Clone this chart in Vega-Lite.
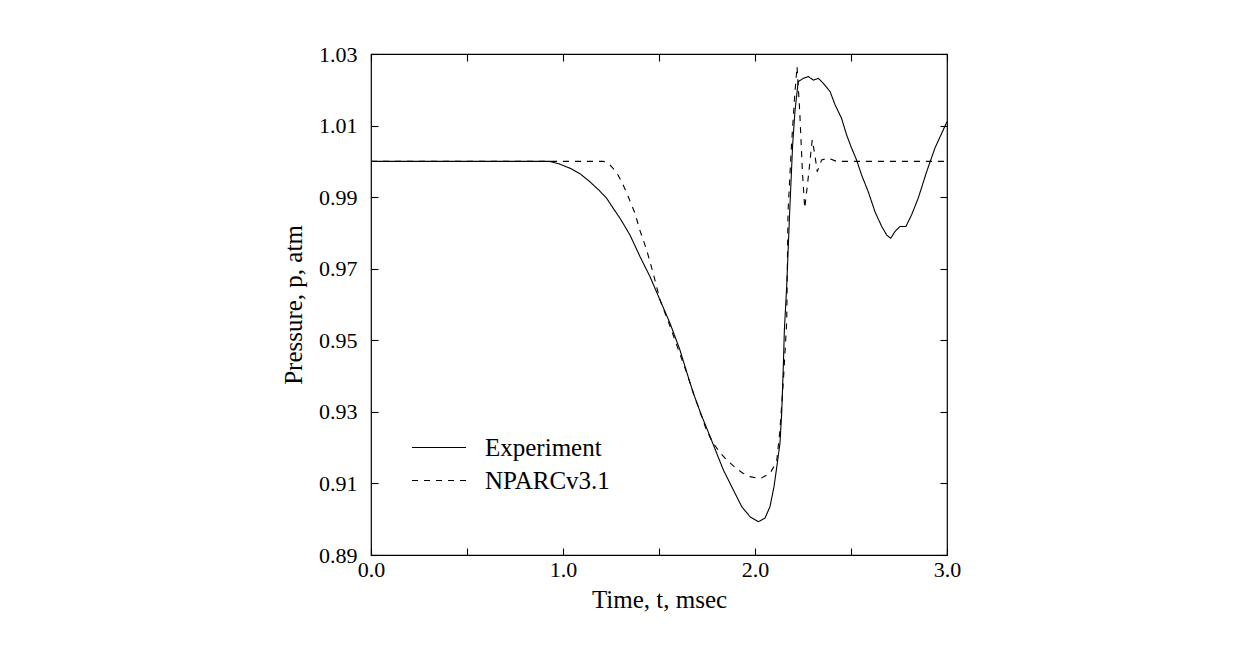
{
  "$schema": "https://vega.github.io/schema/vega-lite/v6.json",
  "autosize": {"type": "none"},
  "padding": {"left": 371, "top": 54, "right": 304, "bottom": 106},
  "width": 576,
  "height": 501,
  "background": "white",
  "config": {
    "font": "Liberation Serif",
    "view": {"stroke": "black", "strokeWidth": 1.2},
    "axis": {
      "labelFont": "Liberation Serif",
      "titleFont": "Liberation Serif",
      "labelColor": "black",
      "titleColor": "black",
      "labelFontSize": 22,
      "titleFontSize": 25,
      "titleFontWeight": "normal",
      "tickColor": "black",
      "domainColor": "black",
      "grid": false,
      "tickSize": -7,
      "tickWidth": 1.1,
      "domain": false
    },
    "legend": {
      "labelFont": "Liberation Serif",
      "labelFontSize": 25,
      "labelColor": "black"
    }
  },
  "data": {
    "values": [
      {"t": 0, "p": 1.0, "series": "Experiment"},
      {"t": 0.5, "p": 1.0, "series": "Experiment"},
      {"t": 0.9, "p": 1.0, "series": "Experiment"},
      {"t": 0.932, "p": 1.0, "series": "Experiment"},
      {"t": 0.98, "p": 0.9993, "series": "Experiment"},
      {"t": 1.036, "p": 0.9981, "series": "Experiment"},
      {"t": 1.09, "p": 0.9965, "series": "Experiment"},
      {"t": 1.14, "p": 0.9943, "series": "Experiment"},
      {"t": 1.19, "p": 0.9918, "series": "Experiment"},
      {"t": 1.227, "p": 0.9897, "series": "Experiment"},
      {"t": 1.26, "p": 0.987, "series": "Experiment"},
      {"t": 1.297, "p": 0.9841, "series": "Experiment"},
      {"t": 1.349, "p": 0.9794, "series": "Experiment"},
      {"t": 1.401, "p": 0.9734, "series": "Experiment"},
      {"t": 1.453, "p": 0.9678, "series": "Experiment"},
      {"t": 1.505, "p": 0.9613, "series": "Experiment"},
      {"t": 1.557, "p": 0.9548, "series": "Experiment"},
      {"t": 1.609, "p": 0.9473, "series": "Experiment"},
      {"t": 1.652, "p": 0.9398, "series": "Experiment"},
      {"t": 1.679, "p": 0.9352, "series": "Experiment"},
      {"t": 1.72, "p": 0.9292, "series": "Experiment"},
      {"t": 1.766, "p": 0.9231, "series": "Experiment"},
      {"t": 1.8, "p": 0.9185, "series": "Experiment"},
      {"t": 1.835, "p": 0.9138, "series": "Experiment"},
      {"t": 1.887, "p": 0.9082, "series": "Experiment"},
      {"t": 1.931, "p": 0.9035, "series": "Experiment"},
      {"t": 1.974, "p": 0.9007, "series": "Experiment"},
      {"t": 2.017, "p": 0.8993, "series": "Experiment"},
      {"t": 2.052, "p": 0.9003, "series": "Experiment"},
      {"t": 2.078, "p": 0.9035, "series": "Experiment"},
      {"t": 2.099, "p": 0.9091, "series": "Experiment"},
      {"t": 2.116, "p": 0.9156, "series": "Experiment"},
      {"t": 2.13, "p": 0.9212, "series": "Experiment"},
      {"t": 2.139, "p": 0.9296, "series": "Experiment"},
      {"t": 2.148, "p": 0.9436, "series": "Experiment"},
      {"t": 2.153, "p": 0.9529, "series": "Experiment"},
      {"t": 2.165, "p": 0.965, "series": "Experiment"},
      {"t": 2.18, "p": 0.985, "series": "Experiment"},
      {"t": 2.196, "p": 1.0046, "series": "Experiment"},
      {"t": 2.208, "p": 1.0139, "series": "Experiment"},
      {"t": 2.225, "p": 1.0223, "series": "Experiment"},
      {"t": 2.252, "p": 1.0232, "series": "Experiment"},
      {"t": 2.278, "p": 1.0237, "series": "Experiment"},
      {"t": 2.304, "p": 1.0227, "series": "Experiment"},
      {"t": 2.33, "p": 1.0232, "series": "Experiment"},
      {"t": 2.356, "p": 1.0218, "series": "Experiment"},
      {"t": 2.391, "p": 1.0195, "series": "Experiment"},
      {"t": 2.417, "p": 1.0158, "series": "Experiment"},
      {"t": 2.451, "p": 1.012, "series": "Experiment"},
      {"t": 2.477, "p": 1.0074, "series": "Experiment"},
      {"t": 2.503, "p": 1.0037, "series": "Experiment"},
      {"t": 2.529, "p": 1.0004, "series": "Experiment"},
      {"t": 2.555, "p": 0.9962, "series": "Experiment"},
      {"t": 2.59, "p": 0.9915, "series": "Experiment"},
      {"t": 2.625, "p": 0.9859, "series": "Experiment"},
      {"t": 2.66, "p": 0.9818, "series": "Experiment"},
      {"t": 2.686, "p": 0.9794, "series": "Experiment"},
      {"t": 2.707, "p": 0.9785, "series": "Experiment"},
      {"t": 2.729, "p": 0.9804, "series": "Experiment"},
      {"t": 2.755, "p": 0.9818, "series": "Experiment"},
      {"t": 2.786, "p": 0.9818, "series": "Experiment"},
      {"t": 2.816, "p": 0.9851, "series": "Experiment"},
      {"t": 2.85, "p": 0.9897, "series": "Experiment"},
      {"t": 2.894, "p": 0.9971, "series": "Experiment"},
      {"t": 2.937, "p": 1.0037, "series": "Experiment"},
      {"t": 2.972, "p": 1.0078, "series": "Experiment"},
      {"t": 3.0, "p": 1.0111, "series": "Experiment"},
      {"t": 0, "p": 1.0, "series": "NPARCv3.1"},
      {"t": 1.0, "p": 1.0, "series": "NPARCv3.1"},
      {"t": 1.21, "p": 1.0, "series": "NPARCv3.1"},
      {"t": 1.235, "p": 0.9995, "series": "NPARCv3.1"},
      {"t": 1.262, "p": 0.998, "series": "NPARCv3.1"},
      {"t": 1.285, "p": 0.9963, "series": "NPARCv3.1"},
      {"t": 1.306, "p": 0.9943, "series": "NPARCv3.1"},
      {"t": 1.34, "p": 0.9901, "series": "NPARCv3.1"},
      {"t": 1.375, "p": 0.9855, "series": "NPARCv3.1"},
      {"t": 1.4, "p": 0.9808, "series": "NPARCv3.1"},
      {"t": 1.436, "p": 0.9752, "series": "NPARCv3.1"},
      {"t": 1.47, "p": 0.9687, "series": "NPARCv3.1"},
      {"t": 1.505, "p": 0.9613, "series": "NPARCv3.1"},
      {"t": 1.557, "p": 0.954, "series": "NPARCv3.1"},
      {"t": 1.61, "p": 0.946, "series": "NPARCv3.1"},
      {"t": 1.645, "p": 0.9408, "series": "NPARCv3.1"},
      {"t": 1.679, "p": 0.9352, "series": "NPARCv3.1"},
      {"t": 1.72, "p": 0.929, "series": "NPARCv3.1"},
      {"t": 1.75, "p": 0.9245, "series": "NPARCv3.1"},
      {"t": 1.783, "p": 0.9212, "series": "NPARCv3.1"},
      {"t": 1.82, "p": 0.9185, "series": "NPARCv3.1"},
      {"t": 1.852, "p": 0.9166, "series": "NPARCv3.1"},
      {"t": 1.9, "p": 0.9143, "series": "NPARCv3.1"},
      {"t": 1.939, "p": 0.9128, "series": "NPARCv3.1"},
      {"t": 1.974, "p": 0.9119, "series": "NPARCv3.1"},
      {"t": 2.026, "p": 0.9113, "series": "NPARCv3.1"},
      {"t": 2.078, "p": 0.9128, "series": "NPARCv3.1"},
      {"t": 2.113, "p": 0.9161, "series": "NPARCv3.1"},
      {"t": 2.13, "p": 0.925, "series": "NPARCv3.1"},
      {"t": 2.148, "p": 0.9389, "series": "NPARCv3.1"},
      {"t": 2.165, "p": 0.955, "series": "NPARCv3.1"},
      {"t": 2.172, "p": 0.9859, "series": "NPARCv3.1"},
      {"t": 2.19, "p": 1.0046, "series": "NPARCv3.1"},
      {"t": 2.207, "p": 1.0185, "series": "NPARCv3.1"},
      {"t": 2.219, "p": 1.0265, "series": "NPARCv3.1"},
      {"t": 2.233, "p": 1.0139, "series": "NPARCv3.1"},
      {"t": 2.247, "p": 0.9971, "series": "NPARCv3.1"},
      {"t": 2.259, "p": 0.9869, "series": "NPARCv3.1"},
      {"t": 2.277, "p": 0.9953, "series": "NPARCv3.1"},
      {"t": 2.298, "p": 1.006, "series": "NPARCv3.1"},
      {"t": 2.312, "p": 1.0018, "series": "NPARCv3.1"},
      {"t": 2.324, "p": 0.9971, "series": "NPARCv3.1"},
      {"t": 2.347, "p": 1.0004, "series": "NPARCv3.1"},
      {"t": 2.382, "p": 1.0009, "series": "NPARCv3.1"},
      {"t": 2.425, "p": 1.0, "series": "NPARCv3.1"},
      {"t": 3.0, "p": 1.0, "series": "NPARCv3.1"}
    ]
  },
  "layer": [
    {
      "mark": {"type": "line", "color": "black", "strokeWidth": 1.1},
      "encoding": {
        "x": {
          "field": "t", "type": "quantitative",
          "scale": {"domain": [0, 3], "nice": false, "zero": false},
          "axis": {
            "title": "Time, t, msec",
            "values": [0, 0.5, 1, 1.5, 2, 2.5, 3],
            "labelExpr": "datum.value % 1 === 0 ? format(datum.value, '.1f') : ''",
            "labelPadding": 11,
            "titlePadding": 7,
            "labelFlush": false
          }
        },
        "y": {
          "field": "p", "type": "quantitative",
          "scale": {"domain": [0.89, 1.03], "nice": false, "zero": false},
          "axis": {
            "title": "Pressure, p, atm",
            "values": [0.89, 0.91, 0.93, 0.95, 0.97, 0.99, 1.01, 1.03],
            "format": ".2f",
            "labelPadding": 21,
            "titlePadding": 12,
            "labelFlush": false
          }
        },
        "strokeDash": {
          "field": "series", "type": "nominal",
          "scale": {"domain": ["Experiment", "NPARCv3.1"], "range": [[1, 0], [6, 6]]},
          "legend": {
            "title": null,
            "orient": "none",
            "legendX": 40,
            "legendY": 378,
            "padding": 0,
            "symbolType": "stroke",
            "symbolSize": 2916,
            "symbolStrokeWidth": 1.1,
            "symbolStrokeColor": "black",
            "clipHeight": 31,
            "rowPadding": 2,
            "labelOffset": 18
          }
        }
      }
    },
    {
      "mark": {"type": "point", "opacity": 0},
      "encoding": {
        "x": {
          "field": "t", "type": "quantitative",
          "axis": {"orient": "top", "title": null, "labels": false, "values": [0, 0.5, 1, 1.5, 2, 2.5, 3]}
        },
        "y": {
          "field": "p", "type": "quantitative",
          "axis": {"orient": "right", "title": null, "labels": false, "values": [0.89, 0.91, 0.93, 0.95, 0.97, 0.99, 1.01, 1.03]}
        }
      }
    }
  ],
  "resolve": {"axis": {"x": "independent", "y": "independent"}}
}
